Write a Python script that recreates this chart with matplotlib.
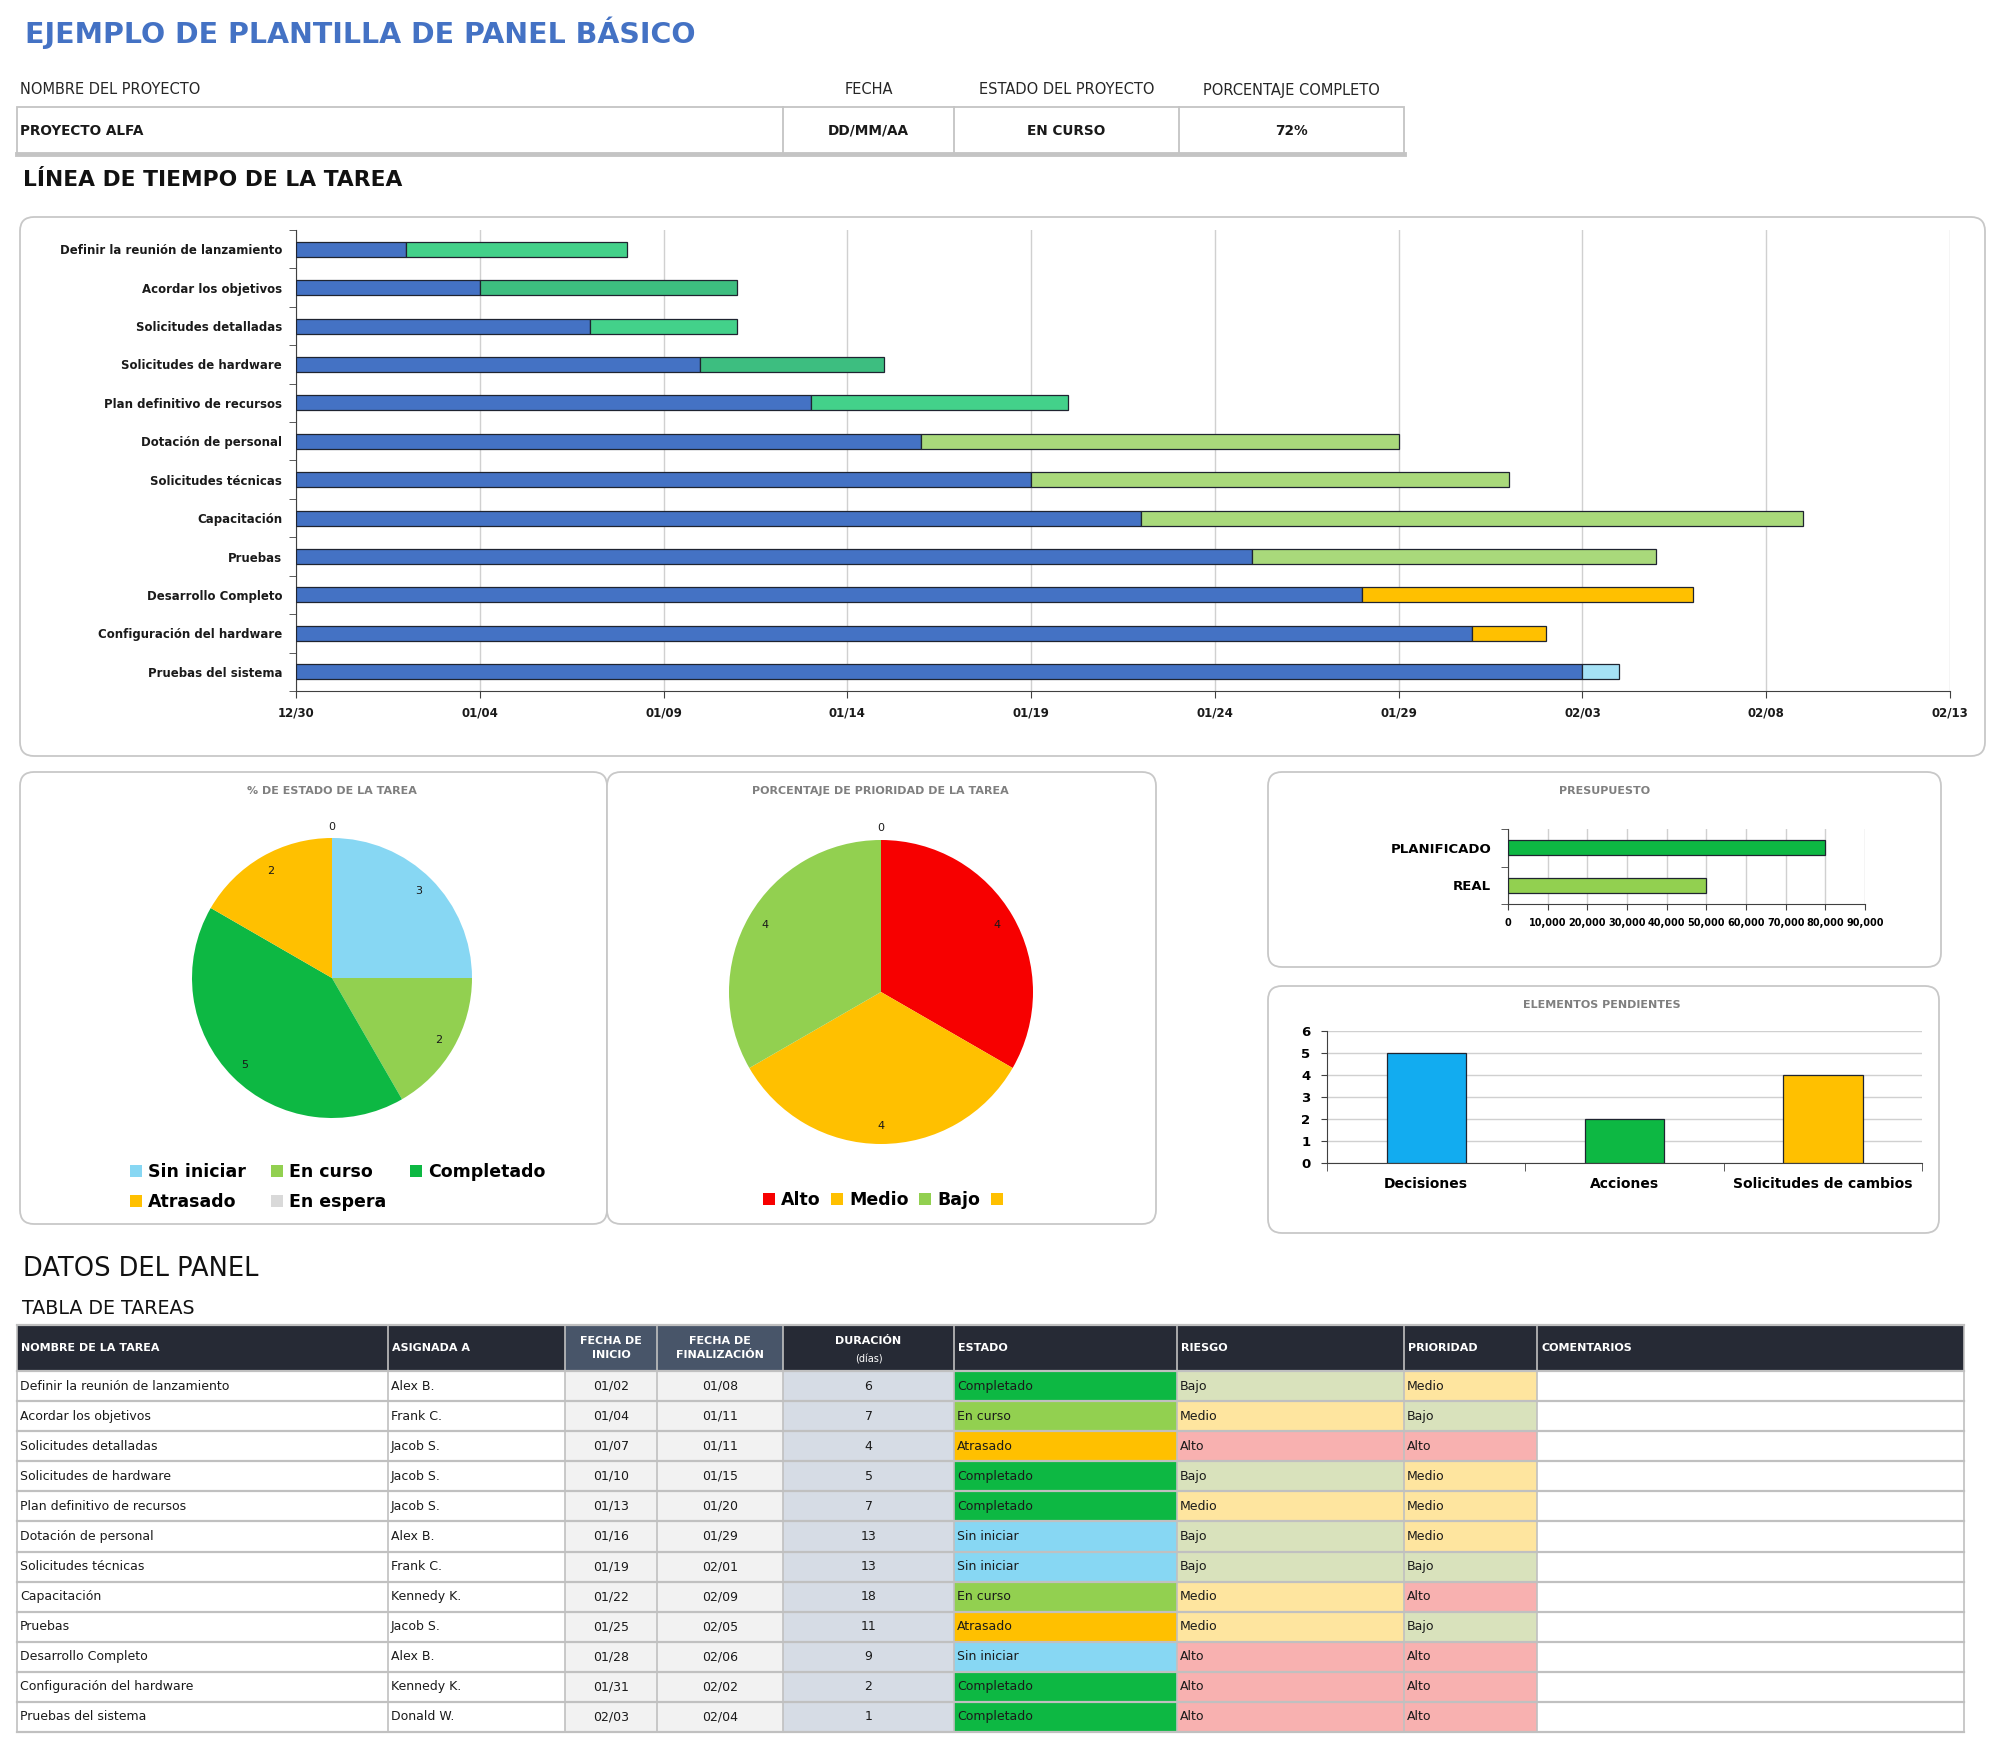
import datetime as dt
import numpy as np
import matplotlib
matplotlib.use('Agg')
import matplotlib.pyplot as plt
import matplotlib.dates as mdates
from matplotlib import font_manager
from matplotlib.patches import FancyBboxPatch, Rectangle
from matplotlib.ticker import FuncFormatter

# ---- datos del panel ----
proyecto = 'PROYECTO ALFA'
fecha = 'DD/MM/AA'
estado_proyecto = 'EN CURSO'
porcentaje = '72%'

tareas = ['Definir la reunión de lanzamiento', 'Acordar los objetivos', 'Solicitudes detalladas',
          'Solicitudes de hardware', 'Plan definitivo de recursos', 'Dotación de personal',
          'Solicitudes técnicas', 'Capacitación', 'Pruebas', 'Desarrollo Completo',
          'Configuración del hardware', 'Pruebas del sistema']
asignadas = ['Alex B.', 'Frank C.', 'Jacob S.', 'Jacob S.', 'Jacob S.', 'Alex B.', 'Frank C.',
             'Kennedy K.', 'Jacob S.', 'Alex B.', 'Kennedy K.', 'Donald W.']
inicio = ['01/02', '01/04', '01/07', '01/10', '01/13', '01/16', '01/19', '01/22', '01/25', '01/28', '01/31', '02/03']
fin = ['01/08', '01/11', '01/11', '01/15', '01/20', '01/29', '02/01', '02/09', '02/05', '02/06', '02/02', '02/04']
duracion = [6, 7, 4, 5, 7, 13, 13, 18, 11, 9, 2, 1]
estado = ['Completado', 'En curso', 'Atrasado', 'Completado', 'Completado', 'Sin iniciar', 'Sin iniciar',
          'En curso', 'Atrasado', 'Sin iniciar', 'Completado', 'Completado']
riesgo = ['Bajo', 'Medio', 'Alto', 'Bajo', 'Medio', 'Bajo', 'Bajo', 'Medio', 'Medio', 'Alto', 'Alto', 'Alto']
prioridad = ['Medio', 'Bajo', 'Alto', 'Medio', 'Medio', 'Medio', 'Bajo', 'Alto', 'Bajo', 'Alto', 'Alto', 'Alto']
colores_gantt = ['#43D18A', '#3DBE80', '#43D18A', '#3DBE80', '#43D18A', '#A9D97B', '#A9D97B',
                 '#A9D97B', '#A9D97B', '#FFC000', '#FFC000', '#A5E1F5']

estados_pie = ['Sin iniciar', 'En curso', 'Completado', 'Atrasado', 'En espera']
estados_cnt = [3, 2, 5, 2, 0]
estados_col = ['#87D7F3', '#92D050', '#0DB843', '#FFC000', '#D9D9D9']

prioridad_pie = ['Alto', 'Medio', 'Bajo', '']
prioridad_cnt = [4, 4, 4, 0]
prioridad_col = ['#F70000', '#FFC000', '#92D050', '#FFC000']

presupuesto_cat = ['PLANIFICADO', 'REAL']
presupuesto_val = [80000, 50000]
presupuesto_col = ['#0DB843', '#92D050']

pendientes_cat = ['Decisiones', 'Acciones', 'Solicitudes de cambios']
pendientes_val = [5, 2, 4]
pendientes_col = ['#12ACF0', '#0DB843', '#FFC000']

col_estado = {'Completado': '#0DB843', 'En curso': '#92D050', 'Atrasado': '#FFC000', 'Sin iniciar': '#87D7F3'}
col_nivel = {'Bajo': '#D9E2BC', 'Medio': '#FEE59F', 'Alto': '#F8B1B0'}

# ---- fuentes ----
nombres = {f.name for f in font_manager.fontManager.ttflist}
NARROW = 'Liberation Sans Narrow' in nombres


def fuente_titulo(n_size, w_size, weight='bold'):
    if NARROW:
        return dict(family='Liberation Sans Narrow', fontsize=n_size, fontweight=weight)
    return dict(family='DejaVu Sans', fontsize=w_size, fontweight=weight)


W, H = 2000, 1754
fig = plt.figure(figsize=(W / 100, H / 100), dpi=100)


def px_axes(x0, y0, x1, y1):
    ax = fig.add_axes([x0 / W, 1 - y1 / H, (x1 - x0) / W, (y1 - y0) / H])
    ax.patch.set_alpha(0)
    return ax


bg = fig.add_axes([0, 0, 1, 1])
bg.set_xlim(0, W)
bg.set_ylim(H, 0)
bg.axis('off')

# titulo y encabezado
bg.text(25, 33, 'EJEMPLO DE PLANTILLA DE PANEL BÁSICO', color='#4472C4', va='center', ha='left',
        **fuente_titulo(27, 20.5))
cols_top = [17, 783, 954, 1179, 1404]
etiquetas = ['NOMBRE DEL PROYECTO', 'FECHA', 'ESTADO DEL PROYECTO', 'PORCENTAJE COMPLETO']
valores = [proyecto, fecha, estado_proyecto, porcentaje]
for i in range(4):
    if i == 0:
        x, ha = cols_top[0] + 3, 'left'
    else:
        x, ha = (cols_top[i] + cols_top[i + 1]) / 2, 'center'
    bg.text(x, 90, etiquetas[i], ha=ha, va='center', fontsize=10.5, color='#262626')
    bg.text(x, 131, valores[i], ha=ha, va='center', fontsize=9.8, fontweight='bold', color='#1a1a1a')
bg.add_patch(Rectangle((17, 107), 1404 - 17, 154 - 107, fc='white', ec='#C4C4C4', lw=1.3, zorder=1))
for x in cols_top[1:-1]:
    bg.plot([x, x], [107, 154], color='#C4C4C4', lw=1.3, zorder=2)
bg.plot([17, 1404], [154, 154], color='#C4C4C4', lw=3.5, zorder=2)

bg.text(23, 180, 'LÍNEA DE TIEMPO DE LA TAREA', color='#111111', va='center', ha='left',
        **fuente_titulo(21, 15.7))

# paneles
paneles = [(20, 217, 1985, 756), (20, 772, 607, 1224), (607, 772, 1156, 1224),
           (1268, 772, 1941, 967), (1268, 986, 1939, 1233)]
for x0, y0, x1, y1 in paneles:
    bg.add_patch(FancyBboxPatch((x0, y0), x1 - x0, y1 - y0, boxstyle='round,pad=0,rounding_size=14',
                                fc='white', ec='#C8C8C8', lw=1.3))

titulos = [('% DE ESTADO DE LA TAREA', 332, 791), ('PORCENTAJE DE PRIORIDAD DE LA TAREA', 880, 791),
           ('PRESUPUESTO', 1605, 791), ('ELEMENTOS PENDIENTES', 1602, 1005)]
for t, x, y in titulos:
    bg.text(x, y, t, ha='center', va='center', fontsize=8, fontweight='bold', color='#7F7F7F')

# ---- gantt ----
def a_fecha(s):
    m, d = map(int, s.split('/'))
    return dt.date(2023 if m == 12 else 2024, m, d)


base = mdates.date2num(a_fecha('12/30'))
comienzos = [mdates.date2num(a_fecha(s)) for s in inicio]
filas = np.arange(len(tareas))

gx = px_axes(296, 230, 1950, 691)
gx.barh(filas, [c - base for c in comienzos], left=base, height=0.39, color='#4472C4',
        edgecolor='#1F2430', linewidth=0.9, zorder=3)
gx.barh(filas, duracion, left=comienzos, height=0.39, color=colores_gantt,
        edgecolor='#1F2430', linewidth=0.9, zorder=3)
gx.set_xlim(base, base + 45)
gx.set_ylim(len(tareas) - 0.5, -0.5)
gx.set_xticks(np.arange(base, base + 46, 5))
gx.xaxis.set_major_formatter(mdates.DateFormatter('%m/%d'))
gx.set_yticks(filas)
gx.set_yticklabels(tareas)
gx.set_yticks(np.arange(-0.5, len(tareas), 1), minor=True)
gx.tick_params(axis='y', which='major', length=0, pad=10)
gx.tick_params(axis='y', which='minor', length=5, color='#404040', direction='out')
gx.tick_params(axis='x', length=5, color='#404040', pad=6)
for lab in gx.get_yticklabels() + gx.get_xticklabels():
    lab.set_fontweight('bold')
    lab.set_fontsize(8.5)
    lab.set_color('#1a1a1a')
gx.grid(axis='x', color='#D0D0D0', lw=1, zorder=0)
for s in ['top', 'right']:
    gx.spines[s].set_visible(False)
gx.spines['left'].set_color('#404040')
gx.spines['bottom'].set_color('#404040')

# ---- tortas ----
def torta(cx, cy, r, vals, cols, k=1.3):
    ax = px_axes(cx - k * r, cy - k * r, cx + k * r, cy + k * r)
    wedges, _ = ax.pie(vals, colors=cols, startangle=90, counterclock=False, radius=1,
                       wedgeprops=dict(linewidth=0))
    ax.set_xlim(-k, k)
    ax.set_ylim(-k, k)
    ax.set_aspect('equal')
    ax.axis('off')
    for w, v in zip(wedges, vals):
        ang = np.deg2rad((w.theta1 + w.theta2) / 2)
        d = 0.88 if v else 1.08
        ax.text(d * np.cos(ang), d * np.sin(ang), str(v), ha='center', va='center', fontsize=8,
                color='#1a1a1a')
    return ax, wedges


p1, w1 = torta(332, 978, 140, estados_cnt, estados_col)
orden = [0, 3, 1, 4, 2]
leg = p1.legend([w1[i] for i in orden], [estados_pie[i] for i in orden], ncol=3, loc='center',
                bbox_to_anchor=(338 / W, 1 - 1187 / H), bbox_transform=fig.transFigure, frameon=False,
                prop=dict(weight='bold', size=12.5), handlelength=0.7, handleheight=0.7,
                handletextpad=0.35, columnspacing=1.4, labelspacing=0.7)

p2, w2 = torta(881, 992, 152, prioridad_cnt, prioridad_col)
p2.legend(w2, prioridad_pie, ncol=4, loc='center', bbox_to_anchor=(886 / W, 1 - 1200 / H),
          bbox_transform=fig.transFigure, frameon=False, prop=dict(weight='bold', size=12.5),
          handlelength=0.7, handleheight=0.7, handletextpad=0.35, columnspacing=0.6)

# ---- presupuesto ----
bx = px_axes(1508, 829, 1865, 904)
bx.barh(range(len(presupuesto_cat)), presupuesto_val, height=0.4, color=presupuesto_col,
        edgecolor='#1F2430', linewidth=0.9, zorder=3)
bx.set_xlim(0, 90000)
bx.set_ylim(len(presupuesto_cat) - 0.5, -0.5)
bx.set_xticks(np.arange(0, 90001, 10000))
bx.xaxis.set_major_formatter(FuncFormatter(lambda v, p: f'{v:,.0f}'))
bx.set_yticks(range(len(presupuesto_cat)))
bx.set_yticklabels(presupuesto_cat)
bx.set_yticks(np.arange(-0.5, len(presupuesto_cat), 1), minor=True)
bx.tick_params(axis='y', which='major', length=0, pad=12)
bx.tick_params(axis='y', which='minor', length=5, color='#404040')
bx.tick_params(axis='x', length=4, color='#404040', pad=6)
for lab in bx.get_yticklabels():
    lab.set_fontweight('bold')
    lab.set_fontsize(9.5)
for lab in bx.get_xticklabels():
    lab.set_fontweight('bold')
    lab.set_fontsize(7)
bx.grid(axis='x', color='#D0D0D0', lw=1, zorder=0)
for s in ['top', 'right']:
    bx.spines[s].set_visible(False)
bx.spines['left'].set_color('#404040')
bx.spines['bottom'].set_color('#404040')

# ---- elementos pendientes ----
ex = px_axes(1327, 1031, 1922, 1163)
ex.bar(range(len(pendientes_cat)), pendientes_val, width=0.4, color=pendientes_col,
       edgecolor='#1F2430', linewidth=0.9, zorder=3)
ex.set_ylim(0, 6)
ex.set_xlim(-0.5, len(pendientes_cat) - 0.5)
ex.set_yticks(range(0, 7))
ex.set_xticks(range(len(pendientes_cat)))
ex.set_xticklabels(pendientes_cat)
ex.set_xticks(np.arange(-0.5, len(pendientes_cat), 1), minor=True)
ex.tick_params(axis='x', which='major', length=0, pad=10)
ex.tick_params(axis='x', which='minor', length=6, color='#404040')
ex.tick_params(axis='y', length=4, color='#404040', pad=8)
for lab in ex.get_xticklabels():
    lab.set_fontweight('bold')
    lab.set_fontsize(10)
for lab in ex.get_yticklabels():
    lab.set_fontweight('bold')
    lab.set_fontsize(9.5)
ex.grid(axis='y', color='#D0D0D0', lw=1, zorder=0)
for s in ['top', 'right']:
    ex.spines[s].set_visible(False)
ex.spines['left'].set_color('#404040')
ex.spines['bottom'].set_color('#404040')

# ---- tabla ----
bg.text(23, 1269, 'DATOS DEL PANEL', va='center', ha='left', color='#111111', **fuente_titulo(23, 18.5, 'normal'))
bg.text(22, 1308, 'TABLA DE TAREAS', va='center', ha='left', color='#111111', **fuente_titulo(17, 13.7, 'normal'))

cols = [17, 388, 565, 657, 783, 954, 1177, 1404, 1537, 1964]
enc_top, enc_bot = 1325, 1371
fila_h = (1732 - enc_bot) / len(tareas)
oscuro, medio_enc = '#262A35', '#485569'
enc_col = [oscuro, oscuro, medio_enc, medio_enc, oscuro, oscuro, oscuro, oscuro, oscuro]
encabezados = ['NOMBRE DE LA TAREA', 'ASIGNADA A', 'FECHA DE\nINICIO', 'FECHA DE\nFINALIZACIÓN',
               'DURACIÓN', 'ESTADO', 'RIESGO', 'PRIORIDAD', 'COMENTARIOS']
centrado = [False, False, True, True, True, False, False, False, False]

for j in range(len(encabezados)):
    x0, x1 = cols[j], cols[j + 1]
    bg.add_patch(Rectangle((x0, enc_top), x1 - x0, enc_bot - enc_top, fc=enc_col[j], ec='none'))
    if centrado[j]:
        xc = (x0 + x1) / 2
        if j == 4:
            bg.text(xc, 1341, encabezados[j], ha='center', va='center', color='white', fontsize=8, fontweight='bold')
            bg.text(xc, 1360, '(días)', ha='center', va='center', color='white', fontsize=7)
        else:
            bg.text(xc, 1348, encabezados[j], ha='center', va='center', color='white', fontsize=8,
                    fontweight='bold', linespacing=1.5)
    else:
        bg.text(x0 + 4, 1348, encabezados[j], ha='left', va='center', color='white', fontsize=8, fontweight='bold')

for i in range(len(tareas)):
    y0 = enc_bot + i * fila_h
    celdas = [tareas[i], asignadas[i], inicio[i], fin[i], str(duracion[i]), estado[i], riesgo[i], prioridad[i], '']
    fondos = ['white', 'white', '#F2F2F2', '#F2F2F2', '#D6DCE5', col_estado[estado[i]],
              col_nivel[riesgo[i]], col_nivel[prioridad[i]], 'white']
    for j in range(len(celdas)):
        x0, x1 = cols[j], cols[j + 1]
        bg.add_patch(Rectangle((x0, y0), x1 - x0, fila_h, fc=fondos[j], ec='none'))
        if centrado[j]:
            bg.text((x0 + x1) / 2, y0 + fila_h / 2, celdas[j], ha='center', va='center', fontsize=9, color='#1a1a1a')
        else:
            bg.text(x0 + 3, y0 + fila_h / 2, celdas[j], ha='left', va='center', fontsize=9, color='#1a1a1a')

# lineas de la tabla
for i in range(len(tareas) + 1):
    y = enc_bot + i * fila_h
    bg.plot([cols[0], cols[-1]], [y, y], color='#C0C0C0', lw=1.6, zorder=3)
bg.plot([cols[0], cols[-1]], [enc_top, enc_top], color='#C0C0C0', lw=1.6, zorder=3)
for x in cols:
    bg.plot([x, x], [enc_top, 1732], color='#C0C0C0', lw=1.2, zorder=3)

fig.savefig('out.png', dpi=100)
